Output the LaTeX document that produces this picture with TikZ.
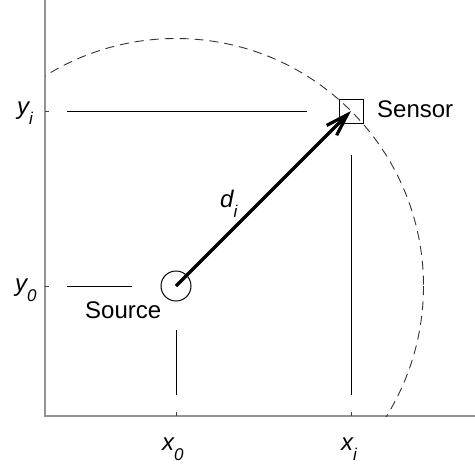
\documentclass[tikz,border=0pt]{standalone}
\usepackage{fontspec}
\setmainfont{Liberation Sans}
\usetikzlibrary{arrows.meta}
\newcommand\lblsub[1]{\raisebox{-10pt}{\fontsize{17}{17}\selectfont #1}}
\begin{document}
\begin{tikzpicture}[x=1pt,y=-1pt,
  axisline/.style={draw=black!42, line width=1.5pt},
  tickline/.style={draw=black!75, line width=1pt},
  guide/.style={draw=black, line width=1pt},
  rangecircle/.style={draw=black!80, line width=0.9pt, dash pattern=on 9pt off 6pt},
  lbl/.style={font=\fontsize{24}{24}\selectfont, inner sep=0pt, anchor=base west},
  ]
\useasboundingbox (0,0) rectangle (475,467);
% axes
\coordinate (O) at (45,416);
\coordinate (Ytop) at (45,0);
\coordinate (Xend) at (475,416);
\draw[axisline] (Ytop) -- (O) -- (Xend);
% dashed range circle
\begin{scope}
  \clip (45,0) rectangle (475,416);
  \draw[rangecircle] (176,286) circle (247.5);
\end{scope}
% ticks
\coordinate (tyi1) at (45,111); \coordinate (tyi2) at (49,111);
\coordinate (ty01) at (45,286); \coordinate (ty02) at (49,286);
\coordinate (tx01) at (176,416); \coordinate (tx02) at (176,412);
\coordinate (txi1) at (351,416); \coordinate (txi2) at (351,412);
\draw[tickline] (tyi1) -- (tyi2) (ty01) -- (ty02) (tx01) -- (tx02) (txi1) -- (txi2);
% guide lines
\coordinate (yiL) at (67,111); \coordinate (yiR) at (307,111);
\coordinate (y0L) at (67,286); \coordinate (y0R) at (132,286);
\coordinate (x0T) at (176,330); \coordinate (x0B) at (176,395);
\coordinate (xiT) at (351,155); \coordinate (xiB) at (351,395);
\draw[guide] (yiL) -- (yiR) (y0L) -- (y0R) (x0T) -- (x0B) (xiT) -- (xiB);
% source and sensor
\node[circle, draw, line width=1pt, minimum size=30pt, inner sep=0pt] (src) at (176,286) {};
\node[draw, line width=1pt, minimum size=24pt, inner sep=0pt] (sen) at (351,111) {};
\draw[line width=3.2pt, -{Straight Barb[length=22pt,width=14pt]}] (src.center) -- (sen.center);
% labels
\node[lbl] (lsen) at (377,117) {Sensor};
\node[lbl] (lsrc) at (85,318) {Source};
\node[lbl] (ldi) at (220,207) {\itshape d\lblsub{i}};
\node[lbl] (lyi) at (17,114) {\itshape y\lblsub{i}};
\node[lbl] (ly0) at (15,291) {\itshape y\lblsub{0}};
\node[lbl] (lx0) at (162,450) {\itshape x\lblsub{0}};
\node[lbl] (lxi) at (341,450) {\itshape x\lblsub{i}};
\end{tikzpicture}
\end{document}
